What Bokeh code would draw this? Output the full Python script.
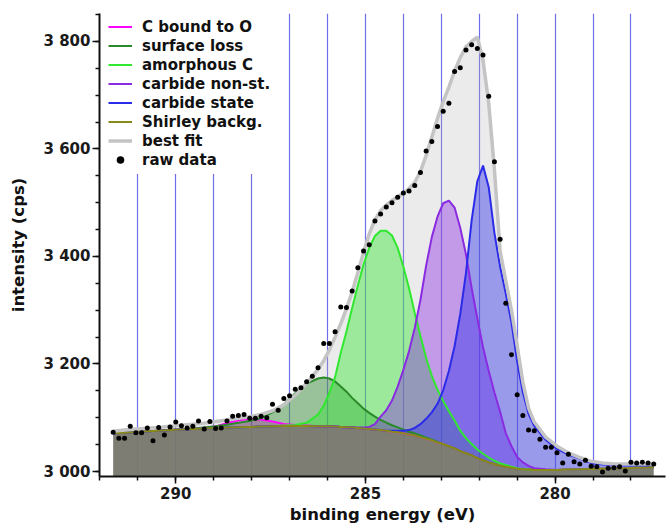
import numpy as np
from bokeh.plotting import figure
from bokeh.models import (Range1d, SingleIntervalTicker, FixedTicker,
                          CustomJSTickFormatter, Legend, LegendItem)
from bokeh.embed import file_html
from bokeh.resources import INLINE

# ---------------- data ----------------
# raw data (binding energy in eV, intensity in cps)
data_x = [
    291.65, 291.50, 291.35, 291.20, 291.05, 290.90, 290.75, 290.60, 290.45, 290.30,
    290.15, 290.00, 289.85, 289.70, 289.55, 289.40, 289.25, 289.10, 288.95, 288.80,
    288.65, 288.50, 288.35, 288.20, 288.05, 287.90, 287.75, 287.60, 287.45, 287.30,
    287.15, 287.00, 286.85, 286.70, 286.55, 286.40, 286.25, 286.10, 285.95, 285.80,
    285.65, 285.50, 285.35, 285.20, 285.05, 284.90, 284.75, 284.60, 284.45, 284.30,
    284.15, 284.00, 283.85, 283.70, 283.55, 283.40, 283.25, 283.10, 282.95, 282.80,
    282.65, 282.50, 282.35, 282.20, 282.05, 281.90, 281.75, 281.60, 281.45, 281.30,
    281.15, 281.00, 280.85, 280.70, 280.55, 280.40, 280.25, 280.10, 279.95, 279.80,
    279.65, 279.50, 279.35, 279.20, 279.05, 278.90, 278.75, 278.60, 278.45, 278.30,
    278.15, 278.00, 277.85, 277.70, 277.55, 277.40]
data_y = [
    3073, 3062, 3062, 3084, 3072, 3072, 3081, 3057, 3082, 3068,
    3083, 3092, 3085, 3081, 3084, 3094, 3079, 3093, 3080, 3081,
    3094, 3103, 3104, 3106, 3099, 3099, 3103, 3100, 3125, 3114,
    3136, 3141, 3153, 3156, 3167, 3177, 3193, 3238, 3238, 3260,
    3306, 3305, 3336, 3379, 3410, 3422, 3466, 3479, 3492, 3500,
    3510, 3518, 3522, 3532, 3556, 3596, 3614, 3642, 3670, 3685,
    3744, 3751, 3784, 3794, 3787, 3775, 3698, 3576, 3432, 3313,
    3217, 3143, 3104, 3077, 3076, 3060, 3045, 3045, 3035, 3016,
    3032, 3018, 3014, 3021, 3010, 3009, 2999, 3006, 3007, 3009,
    3001, 3017, 3016, 3017, 3016, 3014]

# energies at which the fitted curves were read
curve_x = [
    291.65, 291.35, 291.05, 290.75, 290.45, 290.15, 289.85, 289.55, 289.25, 288.95,
    288.65, 288.35, 288.05, 287.75, 287.45, 287.15, 286.85, 286.55, 286.25, 286.10,
    285.95, 285.80, 285.65, 285.50, 285.35, 285.20, 285.05, 284.90, 284.75, 284.60,
    284.45, 284.30, 284.15, 284.00, 283.85, 283.70, 283.55, 283.40, 283.25, 283.10,
    282.95, 282.80, 282.65, 282.50, 282.35, 282.20, 282.05, 281.90, 281.75, 281.60,
    281.45, 281.30, 281.15, 281.00, 280.85, 280.70, 280.55, 280.25, 279.95, 279.65,
    279.35, 279.05, 278.75, 278.45, 278.15, 277.85, 277.55, 277.40]

# Shirley background (absolute cps)
shirley_bg = [
    3071, 3072, 3073.5, 3075, 3076, 3077, 3078, 3079, 3080, 3081,
    3082, 3082.5, 3083, 3083.5, 3084, 3084.5, 3084.5, 3084.5, 3084, 3084,
    3084, 3083.5, 3083, 3082.5, 3082, 3081, 3080, 3079, 3078, 3077,
    3076, 3074, 3073, 3071, 3069, 3067, 3064, 3061, 3058, 3054,
    3051, 3047, 3043, 3038, 3034, 3030, 3025, 3021, 3017, 3014,
    3011, 3009, 3007, 3005, 3004, 3003.5, 3003, 3003, 3003, 3003.5,
    3004, 3004.5, 3005, 3005.5, 3006, 3007, 3007.5, 3008]

# components: height above the Shirley background (cps)
c_bound_O = [
    0, 0, 0, 0, 0, 0, 0, 0, 1, 3,
    8, 13, 15, 13, 9, 4, 2, 1, 0, 0,
    0, 0, 0, 0, 0, 0, 0, 0, 0, 0,
    0, 0, 0, 0, 0, 0, 0, 0, 0, 0,
    0, 0, 0, 0, 0, 0, 0, 0, 0, 0,
    0, 0, 0, 0, 0, 0, 0, 0, 0, 0,
    0, 0, 0, 0, 0, 0, 0, 0]
surface_loss = [
    0, 0, 0, 0, 0, 0, 0, 1, 2, 3,
    5, 8, 11, 16, 26, 41, 61, 79, 89, 91,
    89, 84, 75, 66, 55, 46, 37, 30, 24, 19,
    15, 12, 9, 7, 5, 4, 3, 2, 1, 1,
    0, 0, 0, 0, 0, 0, 0, 0, 0, 0,
    0, 0, 0, 0, 0, 0, 0, 0, 0, 0,
    0, 0, 0, 0, 0, 0, 0, 0]
amorphous_C = [
    0, 0, 0, 0, 0, 0, 0, 0, 0, 0,
    0, 0, 0, 0, 0, 1, 2, 6, 22, 38,
    62, 92, 138, 178, 222, 265, 305, 337, 360, 371,
    372, 365, 343, 310, 272, 228, 188, 150, 120, 98,
    80, 65, 52, 38, 28, 21, 16, 12, 9, 6,
    4, 3, 2, 1, 0, 0, 0, 0, 0, 0,
    0, 0, 0, 0, 0, 0, 0, 0]
carbide_nonst = [
    0, 0, 0, 0, 0, 0, 0, 0, 0, 0,
    0, 0, 0, 0, 0, 0, 0, 0, 0, 0,
    0, 0, 0, 0, 0, 1, 2, 4, 10, 25,
    38, 58, 85, 118, 155, 200, 255, 322, 378, 420,
    448, 457, 448, 415, 370, 311, 260, 210, 170, 133,
    100, 62, 40, 22, 13, 7, 3, 1, 0, 0,
    0, 0, 0, 0, 0, 0, 0, 0]
carbide_state = [
    0, 0, 0, 0, 0, 0, 0, 0, 0, 0,
    0, 0, 0, 0, 0, 0, 0, 0, 0, 0,
    0, 0, 0, 0, 0, 0, 0, 0, 0, 0,
    0, 2, 3, 5, 8, 14, 24, 37, 52, 72,
    100, 140, 190, 255, 335, 437, 515, 548, 512, 430,
    370, 322, 270, 200, 143, 104, 82, 56, 39, 28,
    20, 11, 8, 6, 5, 4, 3, 3]

# best fit envelope (absolute cps)
best_fit = [
    3075, 3077, 3079, 3080.5, 3082, 3084, 3086, 3088, 3090, 3093,
    3096, 3099, 3102, 3106, 3113, 3124, 3142, 3164, 3190, 3206,
    3226, 3250, 3275, 3303, 3334, 3370, 3408, 3442, 3468, 3485,
    3496, 3504, 3511, 3518, 3526, 3538, 3558, 3588, 3622, 3657,
    3688, 3715, 3745, 3770, 3790, 3800, 3808, 3765, 3685, 3562,
    3410, 3355, 3300, 3234, 3166, 3118, 3092, 3064, 3047, 3035,
    3026, 3019, 3016, 3014, 3014, 3014, 3014, 3014]

labels = ["C bound to O", "surface loss", "amorphous C",
          "carbide non-st.", "carbide state"]
colors = ["#ff00ff", "#2a8a2a", "#2fe82f", "#8a2be2", "#2b2bea"]
components = [c_bound_O, surface_loss, amorphous_C, carbide_nonst, carbide_state]

# ---------------- figure ----------------
X_START, X_END = 292.01, 277.09
Y_START, Y_END = 2990.7, 3852.0

p = figure(frame_width=566, frame_height=463,
           x_range=Range1d(X_START, X_END), y_range=Range1d(Y_START, Y_END),
           output_backend="svg", toolbar_location=None,
           min_border_left=99, min_border_right=1, min_border_top=13,
           min_border_bottom=50)
p.outline_line_color = None
p.background_fill_color = "white"

bg = np.array(shirley_bg, dtype=float)
fit = np.array(best_fit, dtype=float)

# envelope fill
p.varea(x=curve_x, y1=bg, y2=fit, fill_color="#b4b4b4", fill_alpha=0.27)

# component fills
abs_curves = []
for comp, col in zip(components, colors):
    a = bg + np.array(comp, dtype=float)
    abs_curves.append(a)
    p.varea(x=curve_x, y1=bg, y2=a, fill_color=col, fill_alpha=0.42)

# background fill
p.varea(x=curve_x, y1=Y_START, y2=bg, fill_color="#76766c", fill_alpha=0.95)

# lines
line_rs = []
for a, col in zip(abs_curves, colors):
    line_rs.append(p.line(curve_x, a, line_color=col, line_width=2))
r_bg = p.line(curve_x, bg, line_color="#8a8a18", line_width=2)
r_fit = p.line(curve_x, fit, line_color="#c4c4c4", line_width=3.5)
r_data = p.scatter(data_x, data_y, size=5, fill_color="black", line_color=None)

# legend (padding only applies when a border is set: use a white border)
items = [LegendItem(label=l, renderers=[r]) for l, r in zip(labels, line_rs)]
items += [LegendItem(label="Shirley backg.", renderers=[r_bg]),
          LegendItem(label="best fit", renderers=[r_fit]),
          LegendItem(label="raw data", renderers=[r_data])]
legend = Legend(items=items, location=(4, 302), margin=0, padding=4, spacing=0,
                label_height=19, glyph_height=19, glyph_width=24, label_standoff=10,
                label_text_font="DejaVu Sans", label_text_font_style="bold",
                label_text_font_size="15px", label_text_color="#111111",
                background_fill_color="white", background_fill_alpha=1.0,
                border_line_color="white", border_line_width=1)
p.add_layout(legend)

# grid: vertical lines at every eV
p.xgrid.ticker = FixedTicker(ticks=list(range(278, 292)))
p.xgrid.grid_line_color = "#6e6eea"
p.xgrid.grid_line_width = 1.2
p.ygrid.visible = False

# axes
p.xaxis.ticker = SingleIntervalTicker(interval=5, num_minor_ticks=5)
p.yaxis.ticker = SingleIntervalTicker(interval=200, num_minor_ticks=4)
p.yaxis.formatter = CustomJSTickFormatter(
    code=r"""return Math.round(tick).toString().replace(/\B(?=(\d{3})+(?!\d))/g, " ");""")
p.xaxis.axis_label = "binding energy (eV)"
p.yaxis.axis_label = "intensity (cps)"
for ax in (p.xaxis[0], p.yaxis[0]):
    ax.axis_line_width = 2
    ax.axis_line_color = "#111111"
    ax.major_tick_line_width = 1.5
    ax.minor_tick_line_width = 1.5
    ax.major_tick_line_color = "#111111"
    ax.minor_tick_line_color = "#111111"
    ax.major_tick_in = 0
    ax.minor_tick_in = 0
    ax.major_tick_out = 7
    ax.minor_tick_out = 4
    ax.major_label_text_font = "DejaVu Sans"
    ax.major_label_text_font_style = "bold"
    ax.major_label_text_font_size = "15px"
    ax.major_label_text_color = "#1a1a1a"
    ax.axis_label_text_font = "DejaVu Sans"
    ax.axis_label_text_font_style = "bold"
    ax.axis_label_text_font_size = "16.5px"
    ax.axis_label_text_color = "#111111"
p.xaxis.major_label_standoff = 3
p.xaxis.axis_label_standoff = 3
p.yaxis.major_label_standoff = 2
p.yaxis.axis_label_standoff = 13

open("out.html", "w").write(file_html(p, INLINE))
